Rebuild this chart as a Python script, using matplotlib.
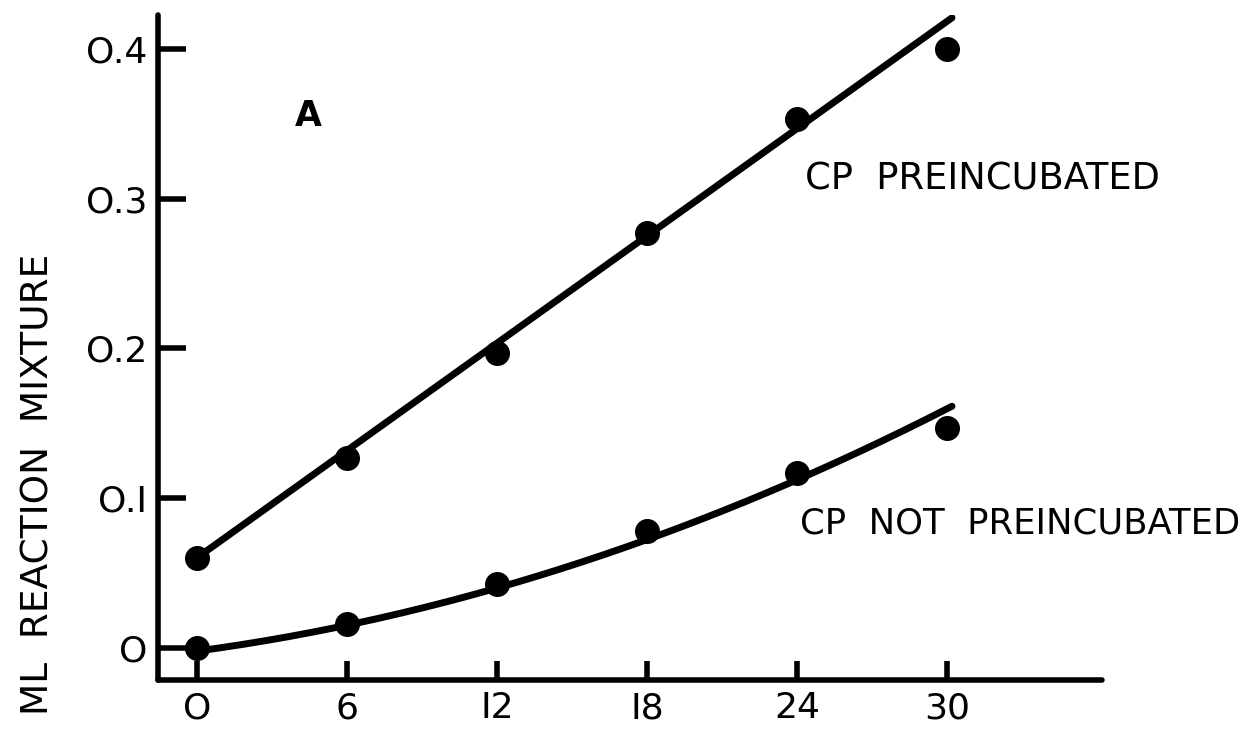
import numpy as np
import matplotlib
matplotlib.use('Agg')
from matplotlib import pyplot as plt

# minutes of incubation
minutes = [0, 6, 12, 18, 24, 30]
# measured points, ml reaction mixture
preincubated = [0.060, 0.127, 0.197, 0.277, 0.353, 0.400]
not_preincubated = [0.000, 0.016, 0.043, 0.078, 0.117, 0.147]
# values the drawn curves pass through
pre_curve = [0.060, 0.132, 0.204, 0.275, 0.347, 0.418]
not_pre_curve = [-0.002, 0.015, 0.041, 0.072, 0.112, 0.160]

xticks = [0, 6, 12, 18, 24, 30]
xticklabels = ['O', '6', 'I2', 'I8', '24', '30']
yticks = [0, 0.1, 0.2, 0.3, 0.4]
yticklabels = ['O', 'O.I', 'O.2', 'O.3', 'O.4']

plt.rcParams['font.family'] = ['DejaVu Sans']
fig = plt.figure(figsize=(12.58, 7.40), dpi=100)
ax = fig.add_axes([0.1256, 0.081, 0.7504, 0.899])

# smooth curves through the fitted values
xs = np.linspace(0, 30.2, 200)
p1 = np.polyfit(minutes, pre_curve, 1)
p2 = np.polyfit(minutes, not_pre_curve, 2)
ax.plot(xs, np.polyval(p1, xs), color='black', lw=5, solid_capstyle='round')
ax.plot(xs, np.polyval(p2, xs), color='black', lw=5, solid_capstyle='round')

ax.plot(minutes, preincubated, 'o', color='black', ms=17)
ax.plot(minutes, not_preincubated, 'o', color='black', ms=17)

ax.set_xlim(-1.56, 36.2)
ax.set_ylim(-0.0213, 0.4227)

for side in ['top', 'right']:
    ax.spines[side].set_visible(False)
for side in ['left', 'bottom']:
    ax.spines[side].set_linewidth(4)
    ax.spines[side].set_capstyle('round')

ax.set_xticks(xticks)
ax.set_xticklabels(xticklabels)
ax.set_yticks(yticks)
ax.set_yticklabels(yticklabels)
ax.tick_params(axis='both', direction='in', width=4, labelsize=26, pad=8)
ax.tick_params(axis='y', length=20)
ax.tick_params(axis='x', length=14)

ax.text(3.9, 0.355, 'A', fontsize=25, fontweight='bold', va='center')
ax.text(24.3, 0.313, 'CP  PREINCUBATED', fontsize=26.5, va='center')
ax.text(24.1, 0.083, 'CP  NOT  PREINCUBATED', fontsize=25.5, va='center')

fig.text(0.031, 0.345, 'ML  REACTION  MIXTURE', fontsize=27, rotation=90,
         ha='center', va='center')

fig.savefig('out.png', dpi=100)
